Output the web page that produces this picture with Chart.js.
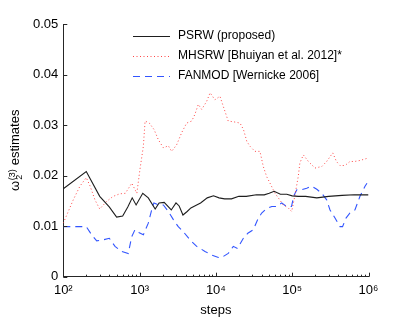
<!DOCTYPE html>
<html>
<head>
<meta charset="utf-8">
<script src="https://cdn.jsdelivr.net/npm/chart.js@4.4.1/dist/chart.umd.min.js"></script>
<style>
  body { margin: 0; background: #fff; }
  canvas { display: block; }
</style>
</head>
<body>
<canvas id="chartCanvas" width="407" height="318"></canvas>
<script>
// omega_2^(3) estimates vs. steps

const psrwSteps = [100,200,300,400,500,600,700,800,900,1100,1300,1600,1800,2100,2600,3000,3300,3700,4200,4700,
    5600,6300,7700,9300,11000,13000,16000,20000,25000,34000,43000,50000,58000,70000,85000,100000,120000,150000,210000,300000,
    450000,650000,1000000];
const psrwValues = [0.0174,0.0208,0.0159,0.0138,0.0118,0.0120,0.0138,0.0156,0.0142,0.0165,0.0156,0.0134,0.0146,0.0147,0.0132,0.0146,0.0140,0.0122,0.0129,0.0136,
    0.0142,0.0146,0.0156,0.0160,0.0156,0.0154,0.0154,0.0159,0.0159,0.0162,0.0162,0.0165,0.0169,0.0163,0.0163,0.0160,0.0159,0.0159,0.0156,0.0159,
    0.0161,0.0162,0.0162];

const mhsrwSteps = [100,135,165,200,225,260,300,370,450,550,650,790,920,1010,1120,1180,1340,1550,1760,2050,
    2380,2630,3060,3560,4140,4820,5300,5880,6510,7570,8400,9700,11300,12500,14500,17800,20700,23000,25400,28000,
    32500,37800,41800,46300,51200,59500,65800,76400,88800,98400,108000,120000,126000,140000,163000,199000,244000,283000,340000,380000,
    423000,492000,572000,660000,774000,1000000];
const mhsrwValues = [0.0106,0.0152,0.0179,0.0196,0.0179,0.0152,0.0134,0.0149,0.0159,0.0164,0.0165,0.0185,0.0165,0.0212,0.0258,0.0308,0.0304,0.0291,0.0271,0.0255,
    0.0259,0.0248,0.0261,0.0285,0.0304,0.0308,0.0321,0.0341,0.0331,0.0347,0.0364,0.0350,0.0357,0.0337,0.0308,0.0306,0.0304,0.0291,0.0268,0.0258,
    0.0248,0.0248,0.0218,0.0198,0.0185,0.0165,0.0156,0.0142,0.0136,0.0129,0.0159,0.0198,0.0225,0.0241,0.0228,0.0215,0.0218,0.0228,0.0245,0.0228,
    0.0220,0.0220,0.0228,0.0228,0.0230,0.0235];

const fanmodSteps = [100,200,235,274,334,401,476,582,711,787,870,990,1120,1300,1440,1540,1760,2050,2380,2770,
    3210,3740,4570,5600,7200,8800,10800,11900,14500,16900,19200,22900,26200,30900,35300,39800,44000,48600,54000,62700,
    72800,84000,98000,105000,115000,133000,155000,180000,210000,244000,283000,313000,364000,423000,457000,507000,572000,664000,773000,900000,
    955000];
const fanmodValues = [0.0099,0.0099,0.0083,0.0071,0.0073,0.0076,0.0060,0.0050,0.0046,0.0079,0.0093,0.0087,0.0083,0.0106,0.0132,0.0146,0.0142,0.0142,0.0129,0.0113,
    0.0099,0.0089,0.0073,0.0060,0.0050,0.0043,0.0038,0.0038,0.0046,0.0060,0.0056,0.0076,0.0086,0.0093,0.0113,0.0126,0.0132,0.0136,0.0139,0.0139,
    0.0146,0.0139,0.0139,0.0160,0.0172,0.0172,0.0175,0.0179,0.0173,0.0165,0.0152,0.0132,0.0116,0.0099,0.0099,0.0116,0.0126,0.0132,0.0159,0.0179,
    0.0185];

const seriesLabels = ['PSRW (proposed)', 'MHSRW [Bhuiyan et al. 2012]*', 'FANMOD [Wernicke 2006]'];
const yTicks = [0, 0.01, 0.02, 0.03, 0.04, 0.05];
const xTicks = [1e2, 1e3, 1e4, 1e5, 1e6];

const FONT = '"Liberation Sans", Arial, Helvetica, sans-serif';
const AXIS_COLOR = '#262626';
const SUP = {2: '\u00B2', 3: '\u00B3', 4: '\u2074', 5: '\u2075', 6: '\u2076'};

function pairs(steps, values) {
    return steps.map((s, i) => ({x: s, y: values[i]}));
}

const lineStyles = [
    {color: 'rgb(30, 30, 30)', dash: [], width: 1.1},
    {color: 'rgb(255, 70, 70)', dash: [1, 2.5], width: 1},
    {color: 'rgb(50, 85, 255)', dash: [7, 5], width: 1.1}
];

// inward tick marks like the matlab axes
const tickMarks = {
    id: 'tickMarks',
    afterDatasetsDraw(chart) {
        const ctx = chart.ctx;
        const xs = chart.scales.x, ys = chart.scales.y;
        const area = chart.chartArea;
        ctx.save();
        ctx.strokeStyle = AXIS_COLOR;
        ctx.lineWidth = 1;
        ctx.beginPath();
        yTicks.forEach(v => {
            const py = Math.round(ys.getPixelForValue(v)) + 0.5;
            ctx.moveTo(area.left, py);
            ctx.lineTo(area.left + 4, py);
        });
        xTicks.forEach((v, i) => {
            const px = Math.round(xs.getPixelForValue(v)) + 0.5;
            ctx.moveTo(px, area.bottom);
            ctx.lineTo(px, area.bottom - 4);
            if (i < xTicks.length - 1) {
                for (let k = 2; k <= 9; k++) {
                    const pm = Math.round(xs.getPixelForValue(v * k)) + 0.5;
                    ctx.moveTo(pm, area.bottom);
                    ctx.lineTo(pm, area.bottom - 2);
                }
            }
        });
        ctx.stroke();
        ctx.restore();
    }
};

// y title with stacked sub/superscript, and the legend box
const labelsPlugin = {
    id: 'labelsPlugin',
    afterDraw(chart) {
        const ctx = chart.ctx;
        ctx.save();
        ctx.fillStyle = '#000';
        ctx.textBaseline = 'alphabetic';
        ctx.textAlign = 'left';
        ctx.translate(19, 191);
        ctx.rotate(-Math.PI / 2);
        ctx.font = '13px ' + FONT;
        ctx.fillText('\u03C9', 0, 0);
        const w = ctx.measureText('\u03C9').width;
        ctx.font = '9px ' + FONT;
        ctx.fillText('(3)', w + 0.5, -4.5);
        ctx.fillText('2', w + 1, 3);
        const supW = ctx.measureText('(3)').width;
        ctx.font = '13px ' + FONT;
        ctx.fillText(' estimates', w + supW + 1, 0);
        ctx.restore();

        ctx.save();
        const rows = [36, 56, 76];
        ctx.font = '12px ' + FONT;
        ctx.textBaseline = 'middle';
        seriesLabels.forEach((label, i) => {
            const st = lineStyles[i];
            ctx.strokeStyle = st.color;
            ctx.lineWidth = st.width;
            ctx.setLineDash(st.dash);
            ctx.beginPath();
            ctx.moveTo(133, rows[i] + 0.5);
            ctx.lineTo(170, rows[i] + 0.5);
            ctx.stroke();
            ctx.fillStyle = '#000';
            ctx.fillText(label, 178, rows[i]);
        });
        ctx.restore();
    }
};

const series = [pairs(psrwSteps, psrwValues), pairs(mhsrwSteps, mhsrwValues), pairs(fanmodSteps, fanmodValues)];

new Chart(document.getElementById('chartCanvas'), {
    type: 'line',
    data: {
        datasets: series.map((d, i) => ({
            label: seriesLabels[i],
            data: d,
            borderColor: lineStyles[i].color,
            borderWidth: lineStyles[i].width,
            borderDash: lineStyles[i].dash,
            pointRadius: 0,
            tension: 0,
            fill: false
        }))
    },
    options: {
        responsive: false,
        animation: false,
        layout: {padding: {top: 24, right: 38.5, left: 0, bottom: 0}},
        plugins: {legend: {display: false}, tooltip: {enabled: false}},
        scales: {
            x: {
                type: 'logarithmic',
                min: 1e2,
                max: 1e6,
                afterBuildTicks: s => { s.ticks = xTicks.map(v => ({value: v})); },
                afterFit: s => { s.height = 41.3; },
                grid: {display: false, drawTicks: false},
                border: {display: true, color: AXIS_COLOR, width: 1},
                ticks: {
                    autoSkip: false,
                    maxRotation: 0,
                    padding: 6,
                    color: '#000',
                    font: {family: FONT, size: 13},
                    callback: v => '10' + SUP[Math.round(Math.log10(v))]
                },
                title: {display: true, text: 'steps', color: '#000', padding: 0,
                        font: {family: FONT, size: 13}}
            },
            y: {
                min: 0,
                max: 0.05,
                afterBuildTicks: s => { s.ticks = yTicks.map(v => ({value: v})); },
                afterFit: s => { s.width = 63.3; },
                grid: {display: false, drawTicks: false},
                border: {display: true, color: AXIS_COLOR, width: 1},
                ticks: {
                    padding: 5,
                    color: '#000',
                    font: {family: FONT, size: 13},
                    callback: v => v === 0 ? '0' : v.toFixed(2)
                }
            }
        }
    },
    plugins: [tickMarks, labelsPlugin]
});
</script>
</body>
</html>
